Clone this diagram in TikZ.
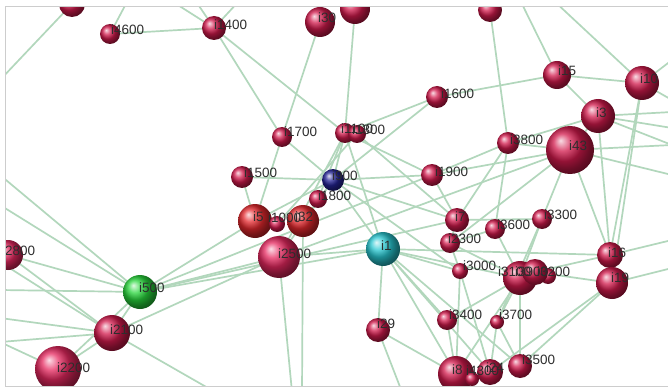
\documentclass[tikz,border=0pt]{standalone}
\usepackage{fontspec}
\setmainfont{Liberation Sans}
\definecolor{edgec}{RGB}{178,215,188}
\definecolor{crim}{RGB}{210,26,76}
\definecolor{pink}{RGB}{230,40,95}
\definecolor{redor}{RGB}{228,40,45}
\definecolor{grn}{RGB}{40,215,60}
\definecolor{cyn}{RGB}{40,200,210}
\definecolor{nvy}{RGB}{35,35,150}
\definecolor{labc}{RGB}{45,45,45}
\definecolor{framec}{RGB}{205,205,205}
\tikzset{
  edge/.style={draw=edgec, line width=1.7pt},
  sph/.style={circle, inner sep=0pt, minimum size=#1},
  lab/.style={anchor=west, inner sep=0pt, text=labc, font=\fontsize{13.5}{14}\selectfont},
}
\begin{document}
\begin{tikzpicture}[x=1pt,y=-1pt]
\useasboundingbox (0,0) rectangle (668,390);
\fill[white] (0,0) rectangle (668,390);
% positions
\coordinate (tl) at (72,4);
\coordinate (i4600) at (110,34);
\coordinate (i1400) at (214,28);
\coordinate (i30) at (320,22);
\coordinate (t355) at (355,9);
\coordinate (t490) at (490,10);
\coordinate (i15) at (557,75);
\coordinate (i10) at (642,83);
\coordinate (i3) at (598,116);
\coordinate (i1600) at (437,97);
\coordinate (i1700) at (282,137);
\coordinate (cl1) at (345,133);
\coordinate (cl2) at (357,134);
\coordinate (i1500) at (242,177);
\coordinate (i900) at (333,180);
\coordinate (i1800) at (318,199);
\coordinate (i1900) at (432,175);
\coordinate (i5) at (255,221);
\coordinate (i1000) at (277,224);
\coordinate (i32) at (303,221);
\coordinate (i2500) at (279,257);
\coordinate (i1) at (383,249);
\coordinate (i3800) at (508,143);
\coordinate (i43) at (570,150);
\coordinate (i7) at (457,220);
\coordinate (i1300) at (450,243);
\coordinate (i3600) at (495,229);
\coordinate (i3300) at (542,219);
\coordinate (i16) at (610,255);
\coordinate (i19) at (612,283);
\coordinate (i3000) at (460,271);
\coordinate (c1) at (520,278);
\coordinate (c2) at (535,272);
\coordinate (c3) at (548,276);
\coordinate (i29) at (378,330);
\coordinate (i3400) at (447,320);
\coordinate (i3700) at (497,322);
\coordinate (i8) at (456,374);
\coordinate (i4300) at (472,379);
\coordinate (i24) at (490,372);
\coordinate (i3500) at (520,366);
\coordinate (i2800) at (8,255);
\coordinate (i500) at (140,292);
\coordinate (i2100) at (112,333);
\coordinate (i2200) at (58,369);
% off-frame ends
\coordinate (o1) at (0,80);
\coordinate (o2) at (170,0);
\coordinate (o3) at (195,0);
\coordinate (o4) at (128,0);
\coordinate (o5) at (240,0);
\coordinate (o6) at (520,0);
\coordinate (o7) at (553,0);
\coordinate (o8) at (672,60);
\coordinate (o9) at (672,100);
\coordinate (o10) at (672,112);
\coordinate (o11) at (672,128);
\coordinate (o12) at (672,145);
\coordinate (o13) at (672,240);
\coordinate (o14) at (672,268);
\coordinate (o15) at (0,175);
\coordinate (o16) at (0,205);
\coordinate (o17) at (0,290);
\coordinate (o18) at (0,318);
\coordinate (o19) at (0,342);
\coordinate (o20) at (215,392);
\coordinate (o21) at (292,392);
\coordinate (o22) at (302,392);
\coordinate (o23) at (402,392);
\coordinate (o24) at (0,262);
\coordinate (o25) at (672,175);
\begin{scope}
\clip (5.5,6.5) rectangle (668,386.5);
% edges
\foreach \a/\b in {tl/o1, i1400/o2, i1400/o3, i4600/i1400, i4600/o4, i1400/o5,
  i1400/i1700, i1400/cl1, i30/i1700, t355/cl1, t490/i3800, o6/i15, o7/i10,
  i1600/i15, i15/i10, i15/i3, i1600/cl1, i1600/i900,
  i10/o8, i10/o9, i3/o10, i3/o11, i3/o12, i43/o12, i43/o25,
  i3/i43, i3/i16, i10/i16, i10/i19,
  i43/i3300, i43/i1900, i43/i3800, i43/i1300, i3/i3800,
  i3800/i3600, i3800/i1900, i3800/i7,
  i1900/i900, i1900/i7, i1900/cl1,
  i1700/i900, i1700/i5, cl1/i900, cl1/i1800, cl1/i1, cl2/i7, cl1/i2500, cl2/i1000,
  i1500/i900, i1500/i5, i900/i1, i900/i2500, i900/i5, i900/i32, i900/i7, i900/i3000,
  i5/i500, i2500/i500, i2500/i2100, i2500/o21, i32/o22, i2500/i1, i2500/i43,
  i500/i1900, i500/i7, i500/i2800, i500/o17, i500/o15, i500/o16, i2800/i2100,
  i2100/i500, i2100/o18, i2100/o19, i2100/o20, i2200/i500, i2200/i2100, i2200/o19,
  i2100/o24, i500/i1,
  i1/i29, i1/i8, i1/i24, i1/i3500, i1/i16, i1/i3000, i1/c1, i1/i3400,
  i29/i8, i29/o23,
  i7/i1300, i1300/i3000, i1300/c1, i7/i3300, i1300/i3600,
  i3600/c1, i3300/c1, i3300/i3700,
  c1/i3400, c1/i3700, c1/i3500, c1/i8, c2/i16, c2/i19,
  i3400/i8, i3700/i24, i3700/i3500, i19/i3500, i19/i24,
  i16/o13, i19/o14, i16/i43, i3000/i24, i3000/i8}
  \draw[edge] (\a) -- (\b);
% spheres
\foreach \n/\r/\c in {tl/13/crim, i4600/10/crim, i1400/12/crim, i30/15/crim,
  t355/15/crim, t490/12/crim, i15/14/crim, i10/17/crim, i3/17/crim,
  i1600/11/crim, i1700/10/crim, cl1/10/crim, cl2/9/crim, i1500/11/crim,
  i900/11/nvy, i1800/9/crim, i1900/11/crim, i5/17/redor, i1000/8/crim,
  i32/16/redor, i2500/21/pink, i1/17/cyn, i3800/11/crim, i43/24/crim,
  i7/12/crim, i1300/10/crim, i3600/10/crim, i3300/10/crim, i16/13/crim,
  i19/16/crim, i3000/8/crim, c3/8/crim, c1/17/crim, c2/13/crim, i29/12/crim,
  i3400/10/crim, i3700/7/crim, i8/18/crim, i4300/7/crim, i24/13/crim,
  i3500/12/crim, i2800/15/pink, i500/17/grn, i2100/18/crim, i2200/23/pink}
  \node[sph=2*\r pt, ball color=\c] (s-\n) at (\n) {};
% labels
\foreach \n/\dx/\dy/\t in {i4600/1/-4/i4600, i1400/0/-3/i1400, i30/-2/-4/i30,
  i15/1/-4/i15, i10/-2/-4/i10, i3/-2/-3/i3, i1600/4/-3/i1600,
  i1700/2/-5/i1700, cl1/-4/-4/i1100, cl2/-5/-4/i1300, i1500/2/-4/i1500,
  i900/-1/-4/i900, i1800/0/-3/i1800, i1900/3/-3/i1900, i5/-2/-4/i5,
  i1000/-9/-6/i1000, i32/-8/-4/i32, i2500/-1/-3/i2500, i1/-2/-3/i1,
  i3800/2/-3/i3800, i43/-1/-4/i43, i7/-2/-3/i7, i1300/-2/-4/i2300,
  i3600/2/-4/i3600, i3300/2/-4/i3300, i16/-2/-2/i16, i19/-1/-5/i19,
  i3000/3/-5/i3000, c1/-22/-6/i3100, c2/-20/0/i3900, c3/-11/-4/i3200,
  i29/-1/-6/i29, i3400/2/-5/i3400, i3700/2/-7/i3700, i8/-4/-4/i8,
  i4300/-6/-8/i4300, i24/-4/-4/i24, i3500/2/-6/i3500, i2800/-6/-4/i2800,
  i500/-1/-4/i500, i2100/-2/-3/i2100, i2200/-1/-1/i2200}
  \node[lab] (l-\n) at ([shift={(\dx,\dy)}]\n) {\t};
\end{scope}
\draw[framec, line width=0.8pt] (668,6.5) -- (5.5,6.5) -- (5.5,386.5) -- (668,386.5);
\end{tikzpicture}
\end{document}
